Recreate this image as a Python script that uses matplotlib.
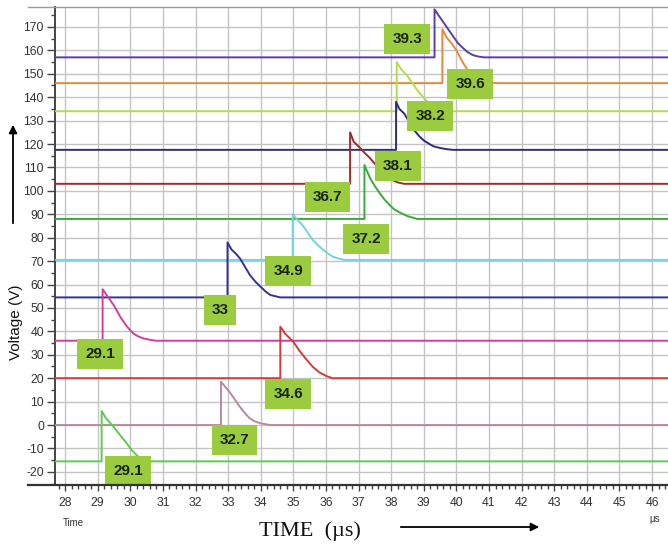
import matplotlib
matplotlib.use("Agg")
import matplotlib.pyplot as plt
from matplotlib.lines import Line2D
from matplotlib.ticker import MultipleLocator

plt.rcParams['axes.unicode_minus'] = False

# pulse traces: time (us) and voltage (V)
t_purple = [27.7, 39.33, 39.33, 39.45, 39.6, 39.75, 39.9, 40.05, 40.2, 40.35, 40.5, 40.65, 40.85, 46.5]
v_purple = [157, 157, 177.5, 175, 172, 169, 166, 163, 161, 159.2, 158, 157.4, 157, 157]
t_orange = [27.7, 39.57, 39.57, 39.7, 39.85, 40.0, 40.15, 40.3, 40.45, 40.6, 40.8, 41.0, 46.5]
v_orange = [146, 146, 169, 165.5, 163, 160, 156, 152.5, 150, 148, 146.7, 146, 146]
t_lime = [27.7, 38.17, 38.17, 38.3, 38.5, 38.65, 38.8, 38.95, 39.05, 39.2, 39.4, 39.6, 46.5]
v_lime = [134, 134, 155, 152, 149, 146, 143, 140.5, 139, 136.8, 135, 134, 134]
t_navy2 = [27.7, 38.15, 38.15, 38.25, 38.4, 38.55, 38.7, 38.85, 39.0, 39.15, 39.3, 39.5, 39.7, 39.9, 46.5]
v_navy2 = [117.5, 117.5, 138, 135, 133, 129.5, 126, 123.5, 121.5, 120.2, 119, 118.3, 117.8, 117.5, 117.5]
t_maroon = [27.7, 36.74, 36.74, 36.85, 37.0, 37.2, 37.35, 37.5, 37.7, 37.9, 38.05, 38.2, 38.4, 46.5]
v_maroon = [103, 103, 125, 121, 119, 116, 114, 111.5, 109, 106.3, 104.5, 103.6, 103, 103]
t_green = [27.7, 37.18, 37.18, 37.35, 37.5, 37.65, 37.8, 37.95, 38.1, 38.3, 38.5, 38.8, 46.5]
v_green = [88, 88, 111, 105.5, 102, 99, 96.2, 94, 92, 90.5, 89.2, 88, 88]
t_cyan = [27.7, 34.98, 34.98, 35.1, 35.3, 35.45, 35.6, 35.75, 35.9, 36.05, 36.2, 36.4, 36.6, 46.5]
v_cyan = [70.5, 70.5, 90, 88, 85, 82, 79, 76.8, 75, 73.3, 72, 71, 70.5, 70.5]
t_navy = [27.7, 32.98, 32.98, 33.1, 33.25, 33.37, 33.52, 33.67, 33.85, 34.0, 34.15, 34.3, 34.6, 46.5]
v_navy = [54.5, 54.5, 78, 75, 73, 71, 67.5, 64, 61, 59, 57, 55.5, 54.5, 54.5]
t_magenta = [27.7, 29.15, 29.15, 29.3, 29.5, 29.7, 29.9, 30.1, 30.25, 30.4, 30.6, 30.8, 46.5]
v_magenta = [36, 36, 58, 55, 51, 46, 42, 39, 37.8, 37, 36.4, 36, 36]
t_red = [27.7, 34.6, 34.6, 34.75, 35.0, 35.2, 35.4, 35.6, 35.8, 36.0, 36.2, 46.5]
v_red = [20, 20, 42, 39, 35.5, 31.5, 28, 24.8, 22.5, 21, 20, 20]
t_rosy = [27.7, 32.78, 32.78, 32.9, 33.05, 33.2, 33.35, 33.5, 33.65, 33.8, 34.0, 34.3, 46.5]
v_rosy = [0, 0, 18.5, 16.5, 14, 11, 8, 5.3, 3, 1.7, 0.7, 0, 0]
t_lgreen = [27.7, 29.12, 29.12, 29.25, 29.5, 29.7, 29.9, 30.05, 30.2, 30.35, 30.5, 46.5]
v_lgreen = [-15.5, -15.5, 6, 3, -1, -4.5, -8, -10.8, -13, -14.6, -15.5, -15.5]

traces = [(t_purple, v_purple), (t_orange, v_orange), (t_lime, v_lime),
          (t_navy2, v_navy2), (t_maroon, v_maroon), (t_green, v_green),
          (t_cyan, v_cyan), (t_navy, v_navy), (t_magenta, v_magenta),
          (t_red, v_red), (t_rosy, v_rosy), (t_lgreen, v_lgreen)]
colors = ['#5b3fa6', '#e8893a', '#b2dc4c', '#2b2f7a', '#a32a2a', '#3aab3a',
          '#74d2e2', '#2e3499', '#d43d9f', '#d43a3a', '#b88a98', '#5ccc4e']

# callout values and where the boxes sit
label_text = ['39.3', '39.6', '38.2', '38.1', '36.7', '37.2',
              '34.9', '33', '29.1', '34.6', '32.7', '29.1']
label_x = [38.49, 40.42, 39.2, 38.21, 36.04, 37.23,
           34.84, 32.75, 29.07, 34.84, 33.2, 29.93]
label_y = [164.9, 145.6, 132, 110.6, 97.4, 79.4,
           65.7, 49, 30.3, 13.2, -6.5, -19.7]

W, H = 668, 544
fig = plt.figure(figsize=(W / 100, H / 100), dpi=100)
ax = fig.add_axes([55 / W, 59 / H, 613 / W, 478 / H])

for (t, v), c in zip(traces, colors):
    ax.plot(t, v, color=c, lw=1.4, zorder=3)

for s, x, y in zip(label_text, label_x, label_y):
    ax.text(x, y, s, ha='center', va='center', fontsize=11, fontweight='bold',
            family='Liberation Sans', color='#1c2410', zorder=5,
            bbox=dict(boxstyle='square,pad=0.52', fc='#9bcb3e', ec='none'))

ax.set_xlim(27.69, 46.49)
ax.set_ylim(-25.6, 178.5)
ax.xaxis.set_minor_locator(MultipleLocator(0.2))
ax.yaxis.set_minor_locator(MultipleLocator(5))
ax.set_xticks(range(28, 47))
ax.set_yticks(range(-20, 171, 10))
ax.grid(True, which='major', color='#c4c4c4', lw=1.0, zorder=0)
ax.set_axisbelow(True)

for lab in ax.get_xticklabels() + ax.get_yticklabels():
    lab.set_family('Liberation Sans')
ax.tick_params(axis='both', which='major', labelsize=8.8, labelcolor='#333333',
               color='#444444')
ax.tick_params(axis='y', which='major', length=6, width=1, pad=2)
ax.tick_params(axis='y', which='minor', length=3, width=1, color='#444444')
ax.tick_params(axis='x', which='major', length=4, width=1, pad=5)
ax.tick_params(axis='x', which='minor', length=3, width=1, color='#444444')

ax.spines['top'].set_visible(False)
ax.spines['right'].set_visible(False)
ax.spines['bottom'].set_visible(False)
ax.spines['left'].set_color('#444444')
ax.spines['left'].set_linewidth(1.4)

# frame lines that run past the y axis
fig.add_artist(Line2D([28 / W, 1], [1 - 7 / H, 1 - 7 / H], color='#9a9a9a', lw=1.0))
fig.add_artist(Line2D([28 / W, 1], [59 / H, 59 / H], color='#333333', lw=1.6))

fig.text(16 / W, 1 - 322 / H, 'Voltage (V)', rotation=90, ha='center', va='center',
         fontsize=11, family='Liberation Sans', color='#111111')
ax.annotate('', xy=(13 / W, 1 - 122 / H), xytext=(13 / W, 1 - 226 / H),
            xycoords='figure fraction', textcoords='figure fraction',
            arrowprops=dict(arrowstyle='-|>', color='black', lw=1.3, mutation_scale=12))

fig.text(73 / W, 1 - 523 / H, 'Time', ha='center', va='center', fontsize=7,
         family='Liberation Sans', color='#333333')
fig.text(655 / W, 1 - 519 / H, 'µs', ha='center', va='center', fontsize=7,
         family='Liberation Sans', color='#333333')
fig.text(310 / W, 1 - 531 / H, 'TIME  (µs)', ha='center', va='center', fontsize=16,
         family='Liberation Serif', color='#111111')
ax.annotate('', xy=(542 / W, 1 - 527 / H), xytext=(398 / W, 1 - 527 / H),
            xycoords='figure fraction', textcoords='figure fraction',
            arrowprops=dict(arrowstyle='-|>', color='black', lw=1.3, mutation_scale=12))

fig.savefig('out.png', dpi=100)
